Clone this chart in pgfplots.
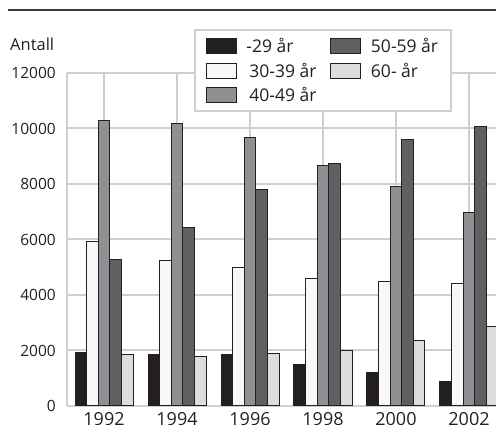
\documentclass[border=0pt]{standalone}
\usepackage{fontspec}
\setmainfont{Open Sans}
\usepackage{pgfplots}
\usepackage{pgfplotstable}
\pgfplotsset{compat=1.18}
\definecolor{cA}{HTML}{231F20}
\definecolor{cB}{HTML}{F8F8F8}
\definecolor{cC}{HTML}{8F9093}
\definecolor{cD}{HTML}{5F6062}
\definecolor{cE}{HTML}{DCDDDF}
\definecolor{gridgray}{HTML}{CFCFCF}
\definecolor{txt}{HTML}{231F20}
\pgfplotstableread{
year m29 a30 a40 a50 a60
1992 1910 5910 10300 5270 1850
1994 1865 5230 10190 6420 1780
1996 1840 4980 9690 7810 1875
1998 1480 4580 8650 8730 2010
2000 1195 4500 7910 9600 2360
2002 900 4430 6980 10060 2850
}\data
\begin{document}
\begin{tikzpicture}
\useasboundingbox (0,0) rectangle (496pt,425pt);
\draw[line width=2pt, color=black!78] (7.5pt,415pt) -- (496pt,415pt);
\node[anchor=base west, inner sep=0pt, font=\fontsize{16.5}{19}\selectfont, text=txt] at (10pt,374.3pt) {Antall};
\begin{axis}[
  at={(67pt,19pt)}, anchor=south west,
  scale only axis, width=429pt, height=333pt,
  xmin=1990.986, xmax=2002.74,
  ymin=0, ymax=12000,
  ytick={0,2000,...,12000},
  xtick={1992,1994,...,2002},
  scaled y ticks=false,
  /pgf/number format/1000 sep={},
  /pgf/number format/assume math mode=true,
  major tick length=0pt,
  axis x line*=bottom, axis y line*=left,
  axis line style={-, draw=gridgray, line width=2pt},
  grid=major,
  major grid style={draw=gridgray, line width=2pt},
  yticklabel style={font=\fontsize{15.5}{18}\selectfont, text=txt, anchor=east, inner sep=0pt, xshift=-11pt},
  xticklabel style={font=\fontsize{18}{21}\selectfont, text=txt, anchor=north, inner sep=0pt, yshift=-6.5pt},
  ybar, bar width=11.6pt,
  legend columns=2,
  legend cell align=left,
  legend image code/.code={\draw[#1,/tikz/.cd] (0pt,-7.5pt) rectangle (30pt,7.5pt); \path[draw=none,fill=none] (0pt,0pt) -- (38pt,0pt);},
  legend style={at={(rel axis cs:0.296,1.1321)}, anchor=north west,
    draw=gridgray, line width=2pt, fill=white,
    font=\fontsize{17.5}{20}\selectfont, text=txt,
    inner xsep=11pt, inner ysep=6pt,
    /tikz/every even column/.append style={column sep=12pt},
    row sep=5pt},
]
\addplot[fill=cA, draw=cA, line width=1pt, bar shift=-23.2pt] table[x=year,y=m29]{\data};
\addlegendentry{-29 år}
\addplot[fill=cD, draw=cA, line width=1pt, bar shift=11.6pt] table[x=year,y=a50]{\data};
\addlegendentry{50-59 år}
\addplot[fill=cB, draw=cA, line width=1pt, bar shift=-11.6pt] table[x=year,y=a30]{\data};
\addlegendentry{\,30-39 år}
\addplot[fill=cE, draw=cA, line width=1pt, bar shift=23.2pt] table[x=year,y=a60]{\data};
\addlegendentry{60- år}
\addplot[fill=cC, draw=cA, line width=1pt, bar shift=0pt] table[x=year,y=a40]{\data};
\addlegendentry{\,40-49 år\rule[-14pt]{0pt}{14pt}}
\end{axis}
\end{tikzpicture}
\end{document}
